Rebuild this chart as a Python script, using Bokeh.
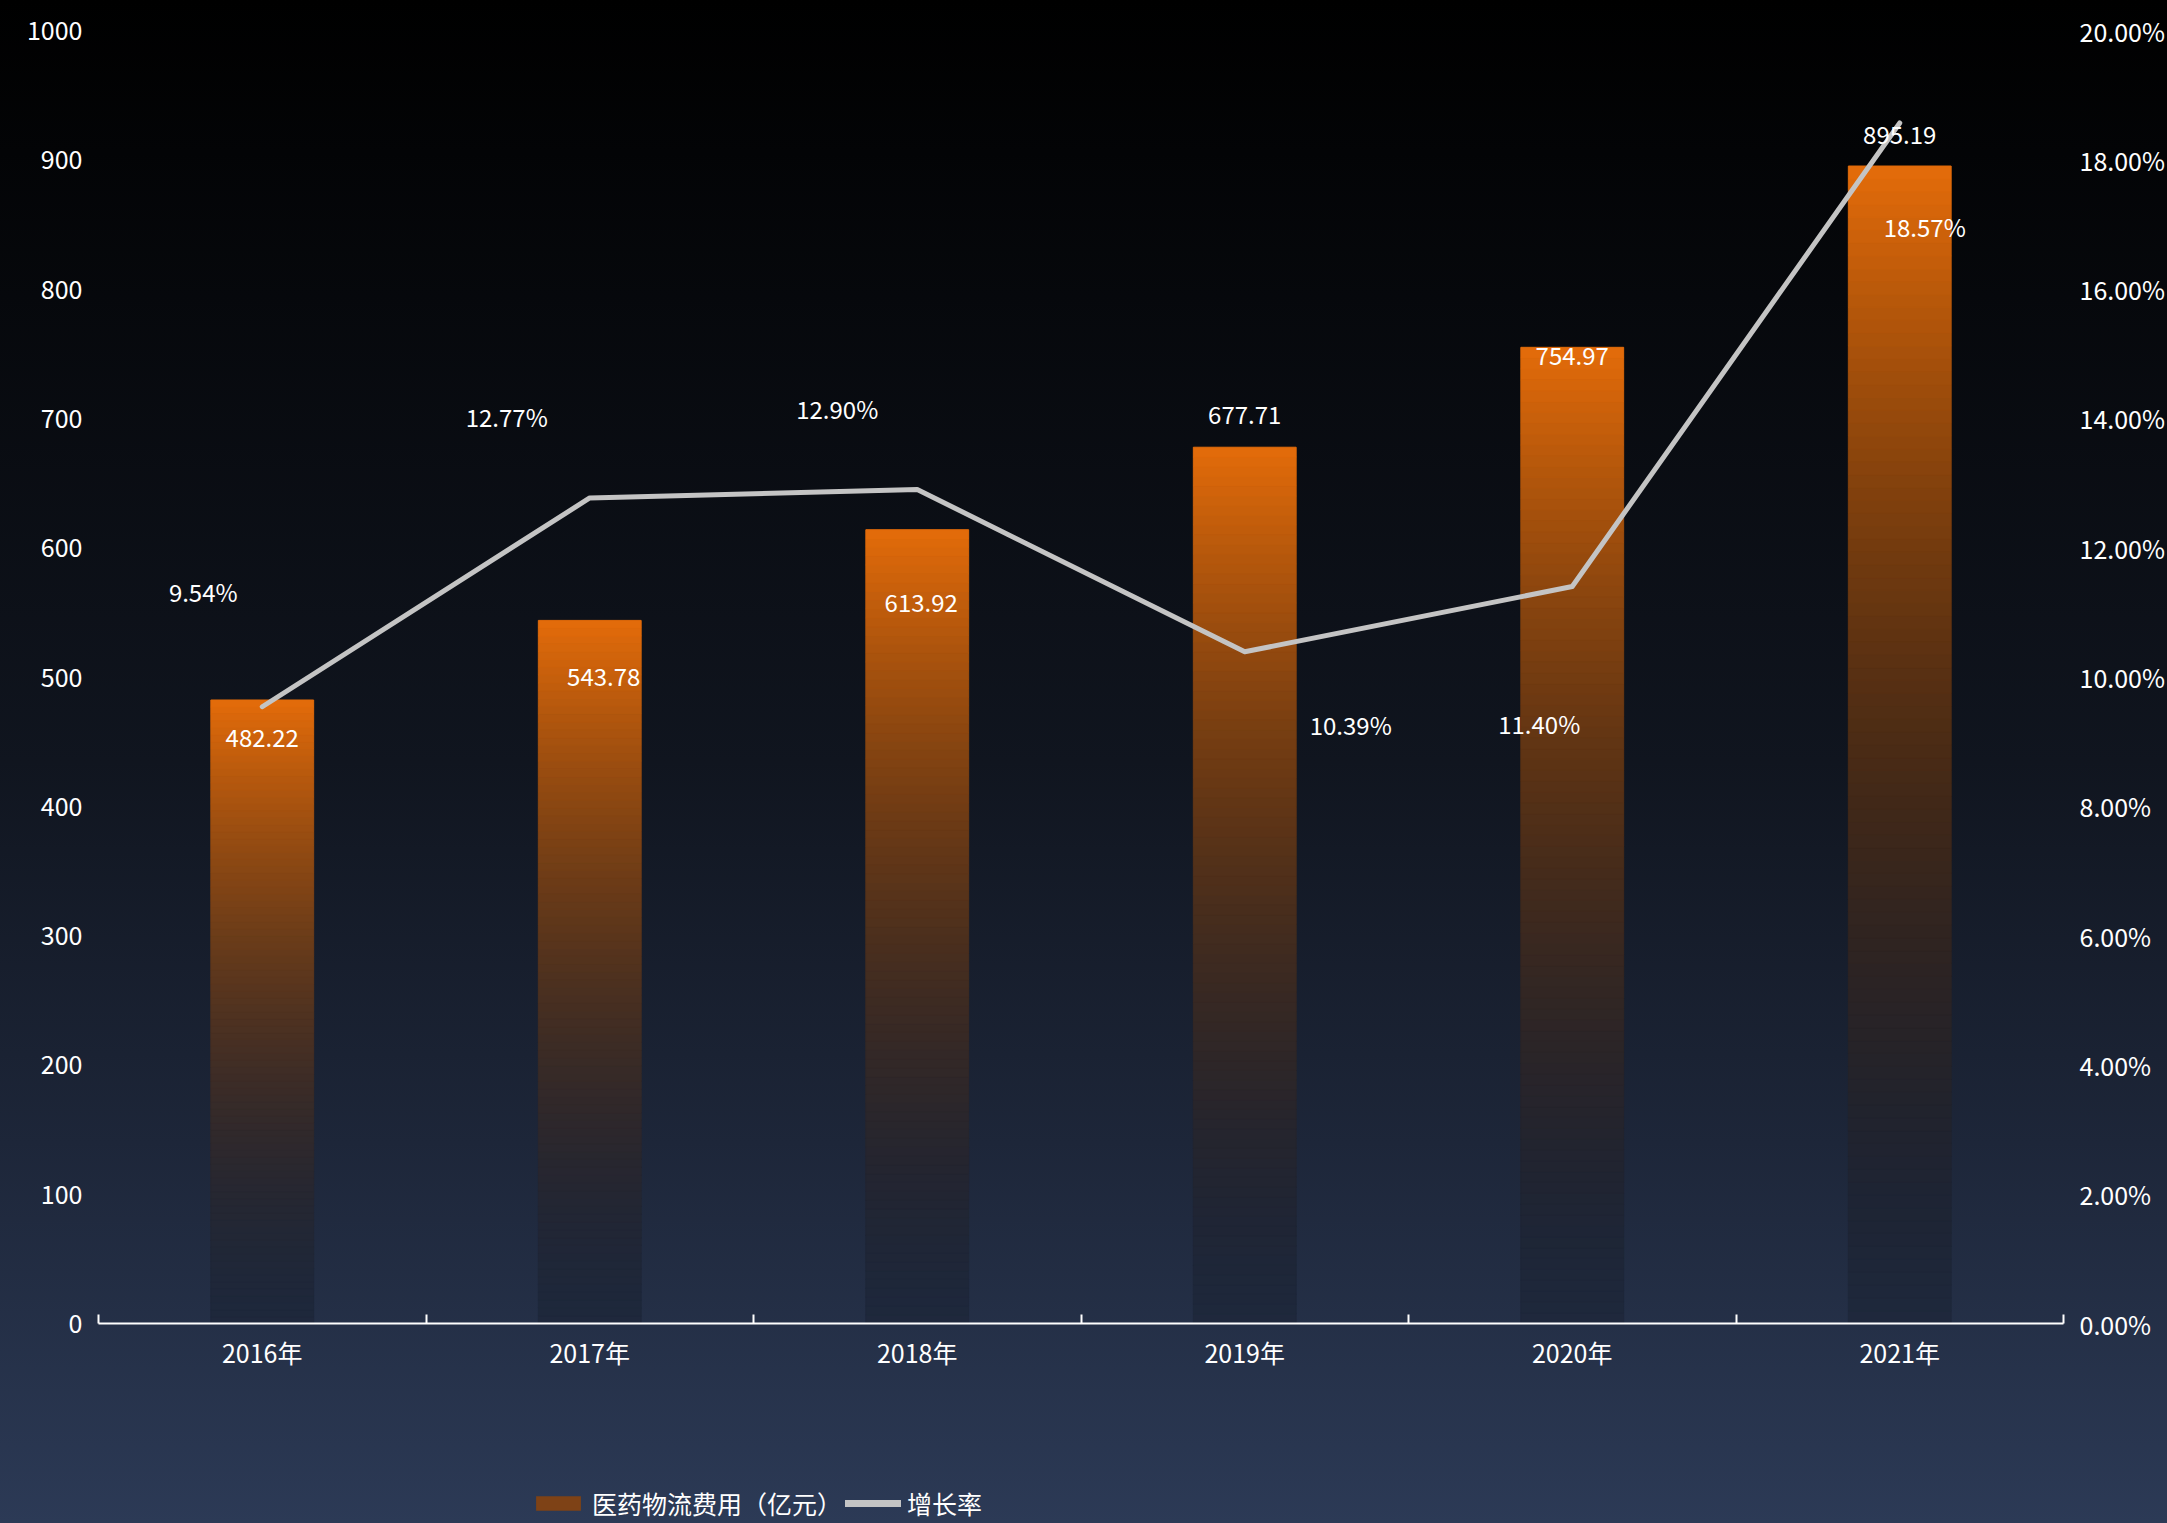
import numpy as np
from bokeh.plotting import figure
from bokeh.layouts import column
from bokeh.models import (ColumnDataSource, LinearAxis, Range1d, FixedTicker,
                          PrintfTickFormatter, LabelSet, Legend, LegendItem,
                          GlobalInlineStyleSheet)
from bokeh.core.properties import value
from bokeh.embed import file_html
from bokeh.resources import INLINE

# ---------------- data ----------------
years = ["2016年", "2017年", "2018年", "2019年", "2020年", "2021年"]
costs = [482.22, 543.78, 613.92, 677.71, 754.97, 895.19]
growth = [9.54, 12.77, 12.90, 10.39, 11.40, 18.57]
cost_labels = ["482.22", "543.78", "613.92", "677.71", "754.97", "895.19"]
growth_labels = ["9.54%", "12.77%", "12.90%", "10.39%", "11.40%", "18.57%"]
left_ticks = [0, 100, 200, 300, 400, 500, 600, 700, 800, 900, 1000]
right_ticks = [0, 2, 4, 6, 8, 10, 12, 14, 16, 18, 20]
series_names = ["医药物流费用（亿元）", "增长率"]

# label offsets (screen px, +y = up)
cost_dx = [0, 14, 4, 0, 0, 0]
cost_dy = [-38, -57, -73, 32, -9, 31]
growth_dx = [-59, -83, -80, 106, -33, 25]
growth_dy = [115, 81, 81, -73, -137, -104]

FONT = "Noto Sans CJK SC"
ORANGE = (228, 108, 10)
BG_STOPS = [(0.0, (0, 0, 0)), (0.10, (3, 4, 6)), (0.50, (16, 21, 31)),
            (0.75, (29, 38, 57)), (1.0, (44, 58, 86))]
BG = "linear-gradient(to bottom, " + ", ".join(
    "rgb(%d,%d,%d) %d%%" % (c[0], c[1], c[2], int(s * 100)) for s, c in BG_STOPS) + ")"

TOTAL_W, TOTAL_H = 2167, 1523
LEG_H = 50
MAIN_H = TOTAL_H - LEG_H
FR_L, FR_R, FR_T, FR_B = 98, 2063, 30, 1323   # frame edges (page px)


def bg_at(frac):
    for (s0, c0), (s1, c1) in zip(BG_STOPS[:-1], BG_STOPS[1:]):
        if frac <= s1:
            u = (frac - s0) / (s1 - s0)
            return tuple(c0[k] + (c1[k] - c0[k]) * u for k in range(3))
    return BG_STOPS[-1][1]


n = len(years)
centers = [i + 0.5 for i in range(n)]
bounds = [i for i in range(n + 1)]
half_w = 0.157

p = figure(width=TOTAL_W, height=MAIN_H, x_range=Range1d(0, n), y_range=Range1d(0, 1000),
           output_backend="svg", toolbar_location=None,
           x_axis_location=None, y_axis_location=None,
           min_border_left=FR_L, min_border_right=TOTAL_W - FR_R, min_border_top=FR_T,
           min_border_bottom=MAIN_H - FR_B)
p.background_fill_alpha = 0
p.border_fill_alpha = 0
p.outline_line_color = None
p.xgrid.visible = False
p.ygrid.visible = False

# ---------------- gradient bars (opaque slices) ----------------
NS = 90
px_per_unit = (FR_B - FR_T) / 1000.0
bl, br, bb, bt, bc = [], [], [], [], []
for i, v in enumerate(costs):
    for k in range(NS):
        lo = v * k / NS
        hi = v * (k + 1) / NS
        f = ((k + 0.5) / NS) ** 1.8
        ypix = FR_B - (lo + hi) / 2 * px_per_unit
        bgc = bg_at(ypix / TOTAL_H)
        col = tuple(int(round(ORANGE[c] * f + bgc[c] * 0.85 * (1 - f))) for c in range(3))
        bl.append(centers[i] - half_w)
        br.append(centers[i] + half_w)
        bb.append(lo)
        bt.append(hi)
        bc.append("#%02x%02x%02x" % col)
bar_src = ColumnDataSource(dict(left=bl, right=br, bottom=bb, top=bt, color=bc))
p.quad(left="left", right="right", bottom="bottom", top="top", source=bar_src,
       fill_color="color", line_color="color", line_width=1)

# ---------------- right axis & line ----------------
p.extra_y_ranges = {"g": Range1d(0, 20)}
p.line(x=centers, y=growth, y_range_name="g", line_color="#c4c4c4",
       line_width=5, line_cap="round", line_join="round")

# ---------------- axes ----------------
xax = LinearAxis(ticker=FixedTicker(ticks=centers, minor_ticks=bounds),
                 major_label_overrides={c: y for c, y in zip(centers, years)})
xax.axis_line_color = "white"
xax.axis_line_width = 2
xax.major_tick_in = 0
xax.major_tick_out = 0
xax.major_tick_line_color = None
xax.minor_tick_in = 9
xax.minor_tick_out = 0
xax.minor_tick_line_color = "white"
xax.minor_tick_line_width = 2
xax.major_label_standoff = 10
p.add_layout(xax, "below")

yl = LinearAxis(ticker=FixedTicker(ticks=left_ticks))
yr = LinearAxis(y_range_name="g", ticker=FixedTicker(ticks=right_ticks),
                formatter=PrintfTickFormatter(format="%.2f%%"))
for ax in (yl, yr):
    ax.axis_line_color = None
    ax.major_tick_line_color = None
    ax.minor_tick_line_color = None
    ax.major_tick_in = 0
    ax.major_tick_out = 0
    ax.major_label_standoff = 16
p.add_layout(yl, "left")
p.add_layout(yr, "right")

for ax in (xax, yl, yr):
    ax.major_label_text_color = "white"
    ax.major_label_text_font = FONT
    ax.major_label_text_font_size = "25px"

# ---------------- data labels ----------------
csrc = ColumnDataSource(dict(x=centers, y=costs, t=cost_labels, dx=cost_dx, dy=cost_dy))
gsrc = ColumnDataSource(dict(x=centers, y=growth, t=growth_labels, dx=growth_dx, dy=growth_dy))
for src, rn in ((csrc, "default"), (gsrc, "g")):
    ls = LabelSet(x="x", y="y", text="t", x_offset="dx", y_offset="dy", source=src,
                  y_range_name=rn, text_align="center", text_baseline="middle",
                  text_color="white", text_font=value(FONT), text_font_size="24px")
    p.add_layout(ls)

# ---------------- legend strip ----------------
lf = figure(width=TOTAL_W, height=LEG_H, x_range=Range1d(0, 1), y_range=Range1d(0, 1),
            output_backend="svg", toolbar_location=None,
            x_axis_location=None, y_axis_location=None,
            min_border=0, min_border_left=0, min_border_right=0,
            min_border_top=0, min_border_bottom=0)
lf.background_fill_alpha = 0
lf.border_fill_alpha = 0
lf.outline_line_color = None
lf.xgrid.visible = False
lf.ygrid.visible = False
sw = lf.quad(left=[5], right=[6], bottom=[5], top=[6], fill_color="#7e4216", line_color=None)
sl = lf.line(x=[5, 6], y=[5, 6], line_color="#c4c4c4", line_width=7, line_cap="round")
legend = Legend(items=[LegendItem(label=series_names[0], renderers=[sw]),
                       LegendItem(label=series_names[1], renderers=[sl])],
                location=(432, 2), orientation="horizontal",
                background_fill_alpha=0, border_line_color=None,
                label_text_color="white", label_text_font=FONT,
                label_text_font_size="25px", glyph_width=56, glyph_height=18,
                spacing=3, padding=0, margin=0, label_standoff=6)
lf.add_layout(legend)

layout = column(p, lf, spacing=0)
layout.styles = {"background": BG}
layout.stylesheets = [GlobalInlineStyleSheet(css="html, body { background: " + BG + "; }")]

open("out.html", "w").write(file_html(layout, INLINE))
